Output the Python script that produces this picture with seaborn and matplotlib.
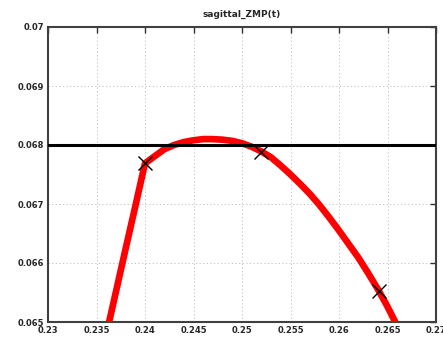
import matplotlib
matplotlib.use("Agg")
import matplotlib.pyplot as plt
import numpy as np
import pandas as pd
import seaborn as sns

# values
t = [0.2363, 0.2370, 0.2380, 0.2390, 0.2400, 0.2410, 0.2420, 0.2430, 0.2440,
     0.2450, 0.2460, 0.2469, 0.2480, 0.2490, 0.2500, 0.2510, 0.2520, 0.2530,
     0.2540, 0.2550, 0.2560, 0.2570, 0.2580, 0.2590, 0.2600, 0.2610, 0.2620,
     0.2630, 0.2641, 0.2650, 0.2658]
zmp = [0.06500, 0.06551, 0.06624, 0.06696, 0.06769, 0.06781, 0.06793, 0.06800,
       0.06805, 0.06808, 0.06810, 0.06810, 0.06809, 0.06807, 0.06803, 0.06797,
       0.06789, 0.06779, 0.06765, 0.06750, 0.06734, 0.06717, 0.06698, 0.06677,
       0.06655, 0.06632, 0.06609, 0.06583, 0.06553, 0.06526, 0.06500]
marker_t = [0.2400, 0.2520, 0.2641]
marker_zmp = [0.06769, 0.06788, 0.06553]
limit = 0.068

x_ticks = [0.23, 0.235, 0.24, 0.245, 0.25, 0.255, 0.26, 0.265, 0.27]
x_labels = ['0.23', '0.235', '0.24', '0.245', '0.25', '0.255', '0.26', '0.265', '0.27']
y_ticks = [0.065, 0.066, 0.067, 0.068, 0.069, 0.07]
y_labels = ['0.065', '0.066', '0.067', '0.068', '0.069', '0.07']

sns.set_style("white")
plt.rcParams['font.family'] = ['DejaVu Sans']

df = pd.DataFrame({'t': t, 'zmp': zmp})
dm = pd.DataFrame({'t': marker_t, 'zmp': marker_zmp})

fig = plt.figure(figsize=(4.43, 3.38), dpi=100)
ax = fig.add_axes([48 / 443, 16 / 338, 388 / 443, 295 / 338])

ax.grid(True, color='#c0c0c0', linestyle=(0, (1.2, 2.5)), linewidth=0.7)
ax.set_axisbelow(True)

sns.lineplot(x='t', y='zmp', data=df, sort=False, color='red', linewidth=4.8,
             ax=ax, zorder=3)
ax.axhline(limit, color='black', linewidth=2.2, zorder=4)
ax.plot(dm['t'], dm['zmp'], linestyle='none', marker='x', color='black',
        markersize=10, markeredgewidth=1.0, zorder=5)

ax.set_xlim(0.23, 0.27)
ax.set_ylim(0.065, 0.07)
ax.set_xticks(x_ticks)
ax.set_xticklabels(x_labels)
ax.set_yticks(y_ticks)
ax.set_yticklabels(y_labels)
ax.tick_params(direction='in', length=4, width=1, color='#303030',
               top=True, right=True, labelsize=6, pad=3)
for lab in ax.get_xticklabels() + ax.get_yticklabels():
    lab.set_fontweight('bold')
ax.set_xlabel('')
ax.set_ylabel('')
for s in ax.spines.values():
    s.set_color('#404040')
    s.set_linewidth(1.5)

ax.set_title('sagittal_ZMP(t)', fontsize=6.5, fontweight='bold', pad=7)

fig.savefig('out.png', dpi=100)
